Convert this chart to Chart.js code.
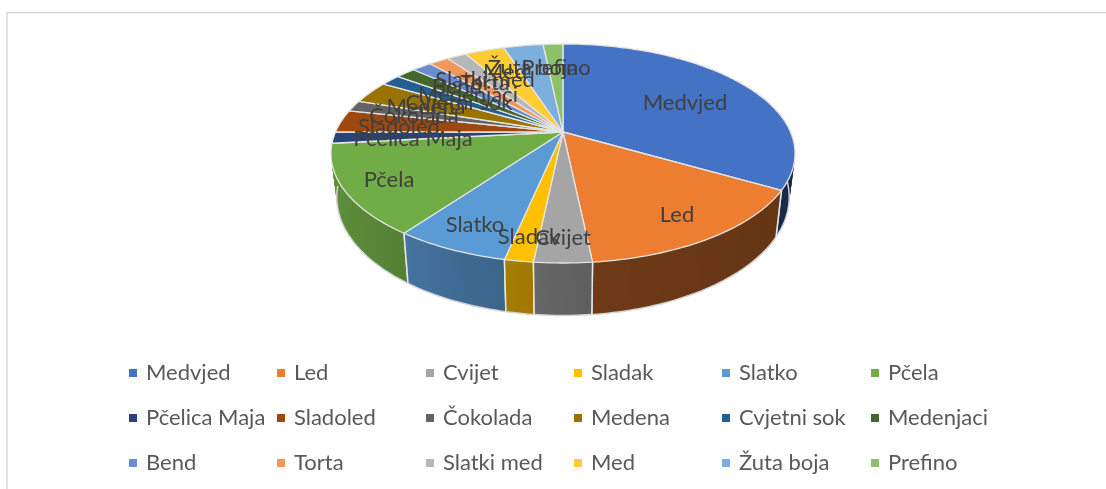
<!DOCTYPE html>
<html><head><meta charset="utf-8">
<style>html,body{margin:0;padding:0;background:#fff;overflow:hidden}
#w{position:absolute;left:0;top:0;width:1106px;height:489px}
canvas{display:block;filter:blur(0.5px)}</style>
<script src="https://cdn.jsdelivr.net/npm/chart.js@4/dist/chart.umd.min.js"></script>
</head><body><div id="w"><canvas id="c" width="1106" height="489"></canvas></div>
<script>
const categories=["Medvjed","Led","Cvijet","Sladak","Slatko","Pčela","Pčelica Maja","Sladoled","Čokolada","Medena","Cvjetni sok","Medenjaci","Bend","Torta","Slatki med","Med","Žuta boja","Prefino"];
const values=[20,9,2,1,4,8,1,2,1,2,1,1,1,1,1,2,2,1];
const colors=["#4472C4","#ED7D31","#A5A5A5","#FFC000","#5B9BD5","#70AD47","#264478","#9E480E","#636363","#997300","#255E91","#43682B","#698ED0","#F1975A","#B7B7B7","#FFCD33","#7CAFDD","#8CC168"];
const FONT='Lato, "Open Sans", sans-serif';
// label centres relative to the pie apex
const labelOffsets=[[122,-29],[114,83],[0,106],[-34,105],[-88,93],[-174,48],[-150,7],[-164,-5],[-149,-16],[-137,-25],[-104,-29],[-95,-37],[-106,-45],[-78,-49],[-78,-52],[-58,-60],[-30,-64],[-7,-64]];
const legendCols=[129,277,426,574,722,871], legendRows=[373,418,463];
const P={sx:1.7235,sy:0.7977,k:0.1964,depth:42,shrinkX:0.975,stretchY:1.08};
function shade(hex,f){const n=parseInt(hex.slice(1),16);
  return `rgb(${Math.round((n>>16&255)*f)},${Math.round((n>>8&255)*f)},${Math.round((n&255)*f)})`;}
const wallTone=(i,c)=> i===1 ? 0.47-0.05*c : 0.6-0.25*c;
const pie3d={id:'pie3d',
 beforeDatasetDraw(chart){
  const ctx=chart.ctx, arcs=chart.getDatasetMeta(0).data;
  const top=(a,f,cx,cy,r)=>{const u=f*Math.cos(a),v=f*Math.sin(a),w=1-P.k*v;
    return [cx+r*P.sx*u/w, cy+r*P.sy*v/w];};
  const bot=(a,cx,cy,r)=>{const q=top(a,1,cx,cy,r);
    return [cx+(q[0]-cx)*P.shrinkX, cy+(q[1]-cy)*P.stretchY+P.depth];};
  const samples=(e)=>{const n=Math.max(6,Math.ceil((e.endAngle-e.startAngle)/0.02)),o=[];
    for(let i=0;i<=n;i++)o.push(e.startAngle+(e.endAngle-e.startAngle)*i/n);return o;};
  ctx.save();
  // side walls, back to front (slices wholly on the far side have no visible wall)
  const order=arcs.map((e,i)=>i).sort((a,b)=>
    Math.sin((arcs[a].startAngle+arcs[a].endAngle)/2)-Math.sin((arcs[b].startAngle+arcs[b].endAngle)/2));
  for(const i of order){const e=arcs[i],an=samples(e);
    if(Math.max(...an.map(Math.sin))<0.12) continue;
    const {x:cx,y:cy,outerRadius:r}=e;
    for(let j=0;j<an.length-1;j++){
      const a0=an[j],a1=an[Math.min(j+2,an.length-1)];
      const t0=top(a0,1,cx,cy,r),t1=top(a1,1,cx,cy,r),b0=bot(a0,cx,cy,r),b1=bot(a1,cx,cy,r);
      ctx.beginPath();ctx.moveTo(t0[0],t0[1]);ctx.lineTo(t1[0],t1[1]);ctx.lineTo(b1[0],b1[1]);ctx.lineTo(b0[0],b0[1]);ctx.closePath();
      ctx.fillStyle=shade(colors[i],wallTone(i,Math.cos(an[j])));ctx.fill();
    }
    // bottom edge
    ctx.beginPath();an.forEach((a,j)=>{const b=bot(a,cx,cy,r);j?ctx.lineTo(b[0],b[1]):ctx.moveTo(b[0],b[1]);});
    ctx.strokeStyle='#d4d4d4';ctx.lineWidth=1.5;ctx.stroke();
    // dividers on the wall
    for(const a of [e.startAngle,e.endAngle]){ if(Math.sin(a)>0.2){
      const t=top(a,1,cx,cy,r),b=bot(a,cx,cy,r);
      ctx.beginPath();ctx.moveTo(t[0],t[1]);ctx.lineTo(b[0],b[1]);ctx.strokeStyle='#e6e6e6';ctx.lineWidth=1.5;ctx.stroke();}}
  }
  // top faces
  arcs.forEach((e,i)=>{const {x:cx,y:cy,outerRadius:r}=e;
    ctx.beginPath();ctx.moveTo(cx,cy);
    samples(e).forEach(a=>{const q=top(a,1,cx,cy,r);ctx.lineTo(q[0],q[1]);});
    ctx.closePath();ctx.fillStyle=colors[i];ctx.fill();
    ctx.strokeStyle='#e4e4e4';ctx.lineWidth=1.3;ctx.lineJoin='round';ctx.stroke();
  });
  ctx.restore();
  return false;
 },
 afterDraw(chart){
  const ctx=chart.ctx, e0=chart.getDatasetMeta(0).data[0];
  ctx.save();
  // frame: top and left edges only
  ctx.fillStyle='#e2e2e2';ctx.fillRect(6,13,2,476);
  ctx.fillStyle='#d9d9d9';ctx.fillRect(6,12,1100,1.4);
  // data labels
  ctx.font='22px '+FONT;ctx.fillStyle='#404040';ctx.textAlign='center';ctx.textBaseline='middle';
  chart.data.labels.forEach((t,i)=>ctx.fillText(t,e0.x+labelOffsets[i][0],e0.y+labelOffsets[i][1]));
  // legend
  ctx.textAlign='left';
  chart.data.labels.forEach((t,i)=>{const x=legendCols[i%6],y=legendRows[Math.floor(i/6)];
    ctx.fillStyle=colors[i];ctx.fillRect(x,y-4,8,8);
    ctx.fillStyle='#595959';ctx.fillText(t,x+17,y);});
  ctx.restore();
 }};
new Chart(document.getElementById('c'),{type:'pie',
 data:{labels:categories,datasets:[{data:values,backgroundColor:colors,borderWidth:0}]},
 options:{responsive:false,animation:false,layout:{padding:{left:20,right:0,top:0,bottom:225}},
  plugins:{legend:{display:false},tooltip:{enabled:false}}},
 plugins:[pie3d]});
</script></body></html>
